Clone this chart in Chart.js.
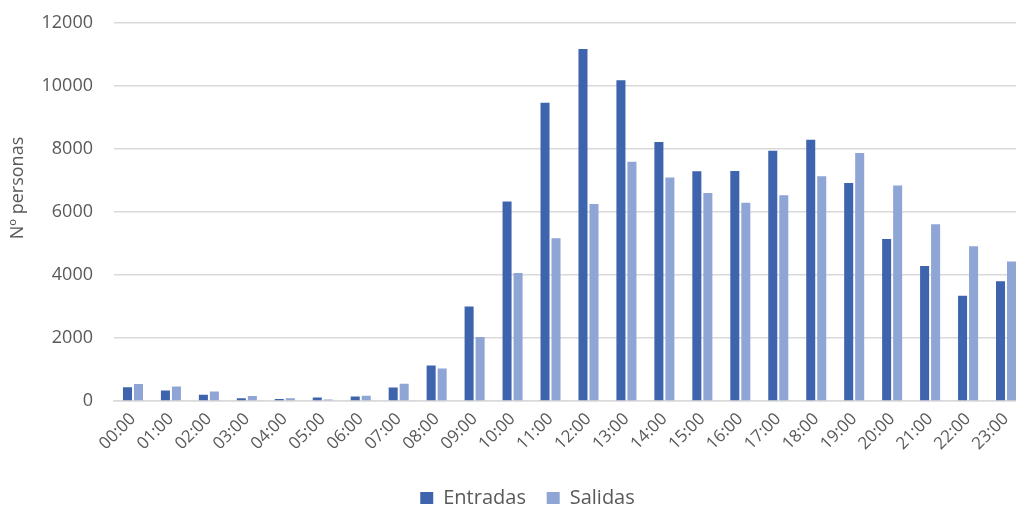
<!DOCTYPE html>
<html>
<head>
<meta charset="utf-8">
<script src="https://cdn.jsdelivr.net/npm/chart.js@4.4.1/dist/chart.umd.min.js"></script>
<style>
html,body{margin:0;padding:0;background:#fff;overflow:hidden;width:1016px;height:507px;}
#wrap{width:1054px;height:518px;}
</style>
</head>
<body>
<div id="wrap"><canvas id="c" width="1054" height="518"></canvas></div>
<script>
const categories = ["00:00","01:00","02:00","03:00","04:00","05:00","06:00","07:00","08:00","09:00","10:00","11:00","12:00","13:00","14:00","15:00","16:00","17:00","18:00","19:00","20:00","21:00","22:00","23:00"];
const entradas = [440, 330, 200, 90, 60, 110, 140, 430, 1130, 3000, 6330, 9460, 11170, 10180, 8220, 7290, 7300, 7940, 8290, 6920, 5140, 4280, 3340, 3800];
const salidas  = [540, 460, 300, 160, 90, 50, 170, 550, 1030, 2030, 4060, 5160, 6250, 7590, 7090, 6600, 6290, 6530, 7130, 7870, 6840, 5610, 4910, 4430];
const yTicks = [0, 2000, 4000, 6000, 8000, 10000, 12000];
const yTitle = "Nº personas";

const FONT = "'Open Sans', 'Noto Sans', sans-serif";
const GREY = '#595959';

const yTitlePlugin = {
  id: 'yTitle',
  afterLayout(chart) {
    if (chart.legend) { chart.legend.left += 15; chart.legend.right += 15; }
  },
  afterDraw(chart) {
    const ctx = chart.ctx;
    ctx.save();
    ctx.fillStyle = GREY;
    ctx.font = "18px " + FONT;
    ctx.textAlign = 'center';
    ctx.textBaseline = 'middle';
    ctx.translate(18, 188);
    ctx.rotate(-Math.PI / 2);
    ctx.fillText(yTitle, 0, 0);
    ctx.restore();
  }
};

new Chart(document.getElementById('c'), {
  type: 'bar',
  data: {
    labels: categories,
    datasets: [
      { label: 'Entradas', data: entradas, backgroundColor: '#3e64ad', borderWidth: 0,
        categoryPercentage: 0.58, barPercentage: 0.82 },
      { label: 'Salidas', data: salidas, backgroundColor: '#8fa5d5', borderWidth: 0,
        categoryPercentage: 0.58, barPercentage: 0.82 }
    ]
  },
  options: {
    responsive: false,
    animation: false,
    devicePixelRatio: 1,
    layout: { padding: { top: 12, right: 29, bottom: 0, left: 0 } },
    plugins: {
      legend: {
        position: 'bottom',
        labels: {
          boxWidth: 13, boxHeight: 12, padding: 0,
          color: GREY,
          font: { family: FONT, size: 20 },
          generateLabels(chart) {
            return chart.data.datasets.map((d, i) => ({
              text: i === 0 ? d.label + '    ' : d.label, fillStyle: d.backgroundColor, strokeStyle: d.backgroundColor,
              lineWidth: 0, hidden: false, datasetIndex: i, fontColor: GREY
            }));
          }
        }
      },
      tooltip: { enabled: false }
    },
    scales: {
      x: {
        grid: { display: false, drawTicks: false },
        border: { display: true, color: '#d9d9d9', width: 1.5 },
        ticks: {
          color: GREY, font: { family: FONT, size: 17 },
          minRotation: 45, maxRotation: 45, padding: 8, autoSkip: false
        },
        afterFit(scale) { scale.height = 87; }
      },
      y: {
        min: 0, max: 12000,
        afterBuildTicks(scale) { scale.ticks = yTicks.map(v => ({ value: v })); },
        grid: { color: '#d9d9d9', lineWidth: 1.5, drawTicks: true, tickLength: 9, tickColor: 'rgba(0,0,0,0)' },
        border: { display: false },
        ticks: { color: GREY, font: { family: FONT, size: 18 }, padding: 12, callback: v => String(v) },
        afterFit(scale) { scale.width = 114; }
      }
    }
  },
  plugins: [yTitlePlugin]
});
</script>
</body>
</html>
